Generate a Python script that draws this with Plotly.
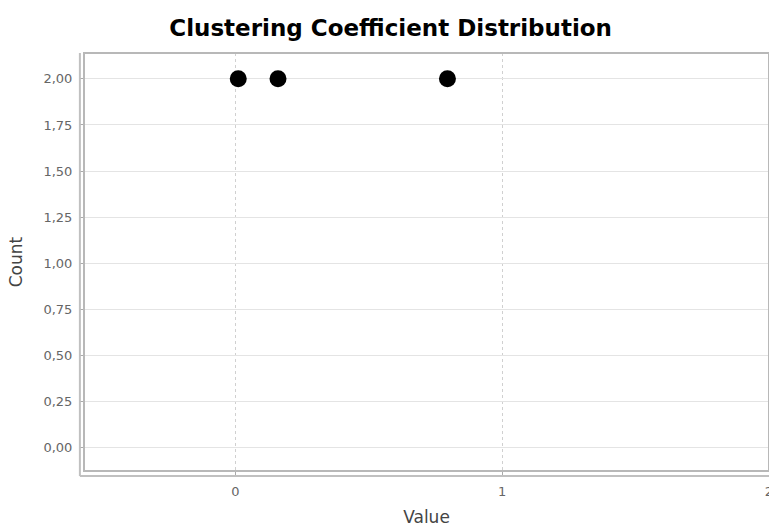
import plotly.graph_objects as go

values = [0.011, 0.16, 0.795]
counts = [2.0, 2.0, 2.0]
y_ticks = [0, 0.25, 0.5, 0.75, 1.0, 1.25, 1.5, 1.75, 2.0]
x_ticks = [0, 1, 2]

fig = go.Figure()
fig.add_trace(go.Scatter(
    x=values, y=counts, mode="markers",
    marker=dict(color="black", size=17),
    cliponaxis=False, showlegend=False, hoverinfo="skip",
))

grid = "#e4e4e4"
lab = dict(family="DejaVu Sans", size=13, color="#666666")
ttl = dict(family="DejaVu Sans", size=17, color="#444444")
fig.update_layout(
    width=769, height=527,
    margin=dict(l=84, r=0, t=53, b=56, autoexpand=False),
    paper_bgcolor="white", plot_bgcolor="white",
    separators=",.",
    title=dict(text="<b>Clustering Coefficient Distribution</b>",
               x=0.508, xanchor="center", y=0.947, yanchor="middle",
               font=dict(family="DejaVu Sans", size=23, color="black")),
    xaxis=dict(range=[-0.567, 2.0], tickvals=x_ticks, ticktext=["0", "1", "2"],
               automargin=False, ticklabeloverflow="allow", ticklabelstandoff=4,
               showgrid=True, gridcolor="#d0d0d0", griddash="dot", gridwidth=1,
               zeroline=False, showline=False, ticks="outside", ticklen=4,
               tickcolor="#aaaaaa", tickfont=lab,
               title=dict(text="Value", font=ttl, standoff=14)),
    yaxis=dict(range=[-0.125, 2.14], tickvals=y_ticks, tickformat=".2f",
               automargin=False, ticklabelstandoff=4,
               showgrid=True, gridcolor=grid, gridwidth=1,
               zeroline=False, showline=False, ticks="outside", ticklen=4,
               tickcolor="#aaaaaa", tickfont=lab,
               title=dict(text="Count", font=ttl, standoff=16)),
    shapes=[
        dict(type="rect", xref="paper", yref="paper", x0=0, x1=1, y0=0, y1=1,
             line=dict(color="#b8b8b8", width=2)),
        dict(type="line", xref="paper", yref="paper", x0=-0.006, x1=-0.006, y0=-0.012, y1=1,
             line=dict(color="#c0c0c0", width=2)),
        dict(type="line", xref="paper", yref="paper", x0=-0.006, x1=1, y0=-0.012, y1=-0.012,
             line=dict(color="#c0c0c0", width=2)),
    ],
)

fig.write_html("out.html", config={"displayModeBar": False},
               post_script="document.body.style.margin='0';")
